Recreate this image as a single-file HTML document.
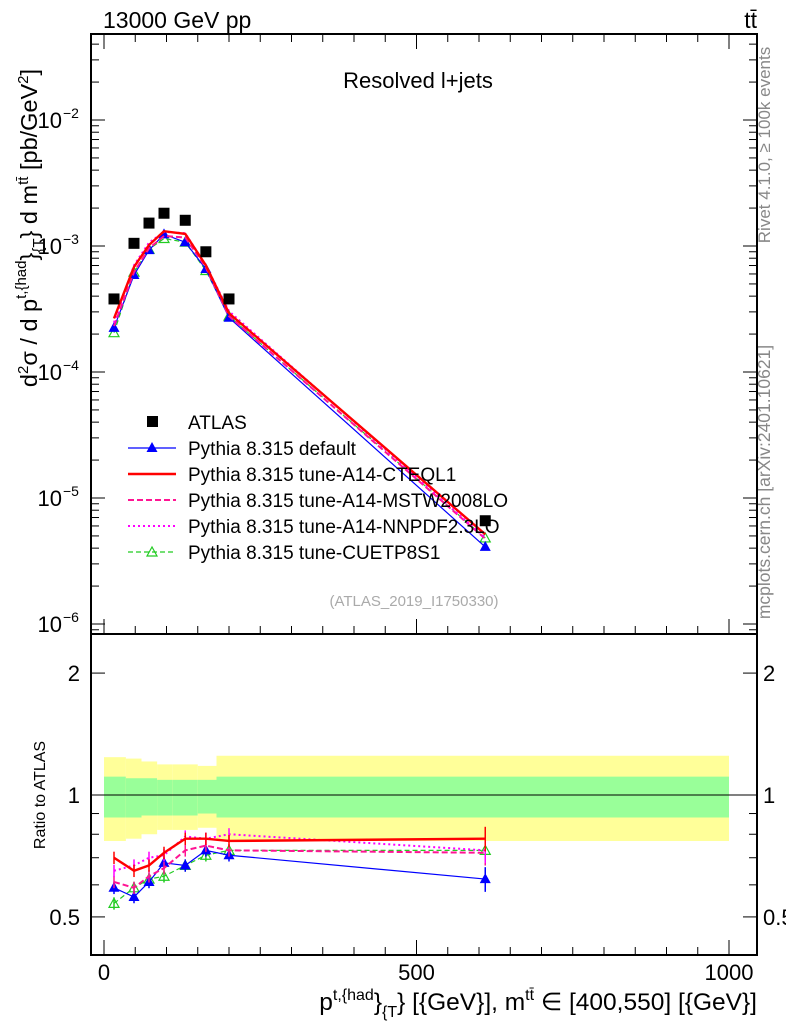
<!DOCTYPE html>
<html><head><meta charset="utf-8"><style>
html,body{margin:0;padding:0;background:#fff;}
svg{display:block;font-family:"Liberation Sans",sans-serif;}
</style></head><body>
<svg id="c" width="786" height="1024" viewBox="0 0 786 1024" xmlns="http://www.w3.org/2000/svg">
<text x="103" y="28" font-size="23">13000 GeV pp</text>
<text x="757" y="28" font-size="23" text-anchor="end">tt̄</text>
<text x="418" y="88" font-size="22" text-anchor="middle">Resolved l+jets</text>
<text x="414" y="606" font-size="15" fill="#aaa" text-anchor="middle">(ATLAS_2019_I1750330)</text>
<text transform="translate(770,145) rotate(-90)" font-size="17" fill="#888" text-anchor="middle">Rivet 4.1.0, ≥ 100k events</text>
<text transform="translate(770,482) rotate(-90)" font-size="17.5" fill="#888" text-anchor="middle">mcplots.cern.ch [arXiv:2401.10621]</text>
<text transform="translate(37,228) rotate(-90)" font-size="23.5" text-anchor="middle">d<tspan font-size="15" dy="-9">2</tspan><tspan dy="9">σ / d p</tspan><tspan font-size="15" dy="-11">t,{had</tspan><tspan dy="11">}</tspan><tspan font-size="15" dy="6">{T</tspan><tspan dy="-6">} d m</tspan><tspan font-size="15" dy="-9">tt̄</tspan><tspan dy="9"> [pb/GeV</tspan><tspan font-size="15" dy="-9">2</tspan><tspan dy="9">]</tspan></text>
<text transform="translate(45,795) rotate(-90)" font-size="16" text-anchor="middle">Ratio to ATLAS</text>
<text x="757" y="1010" font-size="24.5" text-anchor="end">p<tspan font-size="16" dy="-10">t,{had</tspan><tspan dy="10">}</tspan><tspan font-size="16" dy="7">{T</tspan><tspan dy="-7">} [{GeV}], m</tspan><tspan font-size="16" dy="-10">tt̄</tspan><tspan dy="10"> ∈ [400,550] [{GeV}]</tspan></text>
<g id="bands"></g><g id="marks"></g><g id="axes"></g><g id="legend"></g>
</svg>
<script>
const binEdges=[0,35,60,85,110,150,180,220,1000];
const xCenters=[16,48,72,96,130,163,200,610];
const atlas=[3.8e-4,1.05e-3,1.52e-3,1.82e-3,1.6e-3,9.0e-4,3.8e-4,6.6e-6];
const bandYellowHi=[1.24,1.23,1.21,1.19,1.19,1.18,1.25,1.25];
const bandYellowLo=[0.77,0.78,0.80,0.82,0.82,0.83,0.77,0.77];
const bandGreenHi=[1.11,1.10,1.10,1.09,1.09,1.09,1.11,1.11];
const bandGreenLo=[0.88,0.88,0.89,0.89,0.89,0.90,0.88,0.88];
const rDefault=[0.59,0.56,0.61,0.68,0.67,0.73,0.71,0.62];
const rCTEQ=[0.70,0.65,0.67,0.72,0.78,0.78,0.77,0.78];
const rMSTW=[0.61,0.59,0.63,0.66,0.73,0.75,0.73,0.72];
const rNNPDF=[0.65,0.67,0.70,0.71,0.79,0.78,0.80,0.73];
const rCUET=[0.54,0.59,0.62,0.63,0.67,0.71,0.73,0.73];
const seriesNames=["Pythia 8.315 default","Pythia 8.315 tune-A14-CTEQL1","Pythia 8.315 tune-A14-MSTW2008LO","Pythia 8.315 tune-A14-NNPDF2.3LO","Pythia 8.315 tune-CUETP8S1"];
const NS="http://www.w3.org/2000/svg";
const L=91,R=757,T=34,M=634,B=955;
const X=v=>104+v*0.625;
const Y=v=>120-126*(Math.log10(v)+2);
const YR=v=>795-405*Math.log10(v);
function mk(tag,at,parent){const e=document.createElementNS(NS,tag);for(const k in at)e.setAttribute(k,at[k]);document.getElementById(parent).appendChild(e);return e;}
for(let i=0;i<8;i++){
 const x0=X(binEdges[i]),x1=Math.min(X(binEdges[i+1]),R);
 let e=mk('rect',{x:x0,y:YR(bandYellowHi[i]),width:x1-x0,height:YR(bandYellowLo[i])-YR(bandYellowHi[i]),fill:'#ffff99'},'bands');
 
 
 e=mk('rect',{x:x0,y:YR(bandGreenHi[i]),width:x1-x0,height:YR(bandGreenLo[i])-YR(bandGreenHi[i]),fill:'#99ff99'},'bands');
 
 
}
let ln=mk('line',{x1:X(0)-1,x2:R,y1:YR(1),y2:YR(1),stroke:'#000','stroke-width':1},'bands');


const styles=[
 {c:'#0000ff',d:'',w:1.2,m:'tri'},
 {c:'#ff0000',d:'',w:2.4,m:'none'},
 {c:'#ff1493',d:'6,3',w:2,m:'none'},
 {c:'#ff00ff',d:'2,3',w:2,m:'none'},
 {c:'#22cc22',d:'5,3',w:1.2,m:'otri'}];
const ratios=[rDefault,rCTEQ,rMSTW,rNNPDF,rCUET];
const keys=['default','cteql1','mstw2008lo','nnpdf23lo','cuetp8s1'];
function marker(s,x,y,name){
 if(s.m==='tri'){const e=mk('polygon',{points:`${x},${y-6} ${x-5.5},${y+4} ${x+5.5},${y+4}`,fill:s.c},'marks');}
 else if(s.m==='otri'){const e=mk('polygon',{points:`${x},${y-5} ${x-5},${y+4} ${x+5},${y+4}`,fill:'none',stroke:s.c,'stroke-width':1.2},'marks');}
}
[4,0,2,3,1].forEach(k=>{
 const s=styles[k],r=ratios[k];
 const mainPts=r.map((v,i)=>X(xCenters[i])+','+Y(v*atlas[i])).join(' ');
 let e=mk('polyline',{points:mainPts,fill:'none',stroke:s.c,'stroke-width':s.w,'stroke-dasharray':s.d},'marks');
 
 
 const rPts=r.map((v,i)=>X(xCenters[i])+','+YR(v)).join(' ');
 e=mk('polyline',{points:rPts,fill:'none',stroke:s.c,'stroke-width':s.w,'stroke-dasharray':s.d},'marks');
 
 
 r.forEach((v,i)=>{
  const x=X(xCenters[i]);
  const er=(i===7?0.07:0.035)*v;
  e=mk('line',{x1:x,x2:x,y1:YR(v+er),y2:YR(v-er),stroke:s.c,'stroke-width':1.5},'marks');
  
  
  marker(s,x,Y(v*atlas[i]),'main-point-'+keys[k]);
  marker(s,x,YR(v),'ratio-point-'+keys[k]);
 });
});
atlas.forEach((v,i)=>{
 const e=mk('rect',{x:X(xCenters[i])-5.5,y:Y(v)-5.5,width:11,height:11,fill:'#000'},'marks');
 
 
});
function ax(tag,at,name){const e=mk(tag,at,'axes');return e;}
ax('rect',{x:L,y:T,width:R-L,height:M-T,fill:'none',stroke:'#000','stroke-width':2},'main-frame');
ax('rect',{x:L,y:M,width:R-L,height:B-M,fill:'none',stroke:'#000','stroke-width':2},'ratio-frame');
const yDecades=[-2,-3,-4,-5,-6];
const yLabels=['10','10','10','10','10'];
for(let d=-7;d<=-1;d++){for(let m=1;m<10;m++){const y=Y(m*Math.pow(10,d));if(y<T||y>M)continue;const len=m===1?14:8;ax('line',{x1:L,x2:L+len,y1:y,y2:y,stroke:'#000','stroke-width':1},'y-tick');ax('line',{x1:R-len,x2:R,y1:y,y2:y,stroke:'#000','stroke-width':1},'y-tick');}}
yDecades.forEach((d,i)=>{const y=Y(Math.pow(10,d));
 ax('text',{x:62,y:y+8,'font-size':22,'text-anchor':'end'},'y-tick-label').textContent=yLabels[i];
 ax('text',{x:63,y:y-2,'font-size':14},'y-tick-exponent').textContent='−'+(-d);});
const rTicks=[0.4,0.5,0.6,0.7,0.8,0.9,1,2];
rTicks.forEach(v=>{const y=YR(v);if(y>B)return;const len=(v===0.5||v===1||v===2)?14:8;ax('line',{x1:L,x2:L+len,y1:y,y2:y,stroke:'#000'},'ratio-tick');ax('line',{x1:R-len,x2:R,y1:y,y2:y,stroke:'#000'},'ratio-tick');});
const rLabels=['0.5','1','2'];
[0.5,1,2].forEach((v,i)=>{ax('text',{x:80,y:YR(v)+8,'font-size':22,'text-anchor':'end'},'ratio-tick-label').textContent=rLabels[i];ax('text',{x:763,y:YR(v)+8,'font-size':22},'ratio-tick-label').textContent=rLabels[i];});
for(let v=0;v<=1050;v+=50){const x=X(v);if(x>R)break;const len=v%500===0?15:8;[M,B].forEach(yb=>ax('line',{x1:x,x2:x,y1:yb,y2:yb-len,stroke:'#000'},'x-tick'));ax('line',{x1:x,x2:x,y1:T,y2:T+len,stroke:'#000'},'x-tick');}
const xLabels=['0','500','1000'];
[0,500,1000].forEach((v,i)=>{ax('text',{x:X(v),y:980,'font-size':22,'text-anchor':'middle'},'x-tick-label').textContent=xLabels[i];});
function lgE(tag,at,name){const e=mk(tag,at,'legend');return e;}
lgE('rect',{x:147,y:416,width:11,height:11,fill:'#000'},'legend-marker-atlas');
lgE('text',{x:188,y:429,'font-size':19},'legend-label-atlas').textContent='ATLAS';
seriesNames.forEach((n,k)=>{const y=448+k*26,s=styles[k];
 lgE('line',{x1:128,x2:176,y1:y,y2:y,stroke:s.c,'stroke-width':s.w,'stroke-dasharray':s.d},'legend-line-'+keys[k]);
 if(s.m==='tri')lgE('polygon',{points:`152,${y-6} 146.5,${y+4} 157.5,${y+4}`,fill:s.c},'legend-marker-'+keys[k]);
 if(s.m==='otri')lgE('polygon',{points:`152,${y-5} 147,${y+4} 157,${y+4}`,fill:'none',stroke:s.c,'stroke-width':1.2},'legend-marker-'+keys[k]);
 lgE('text',{x:188,y:y+7,'font-size':19},'legend-label-'+keys[k]).textContent=n;});
</script>
</body></html>
